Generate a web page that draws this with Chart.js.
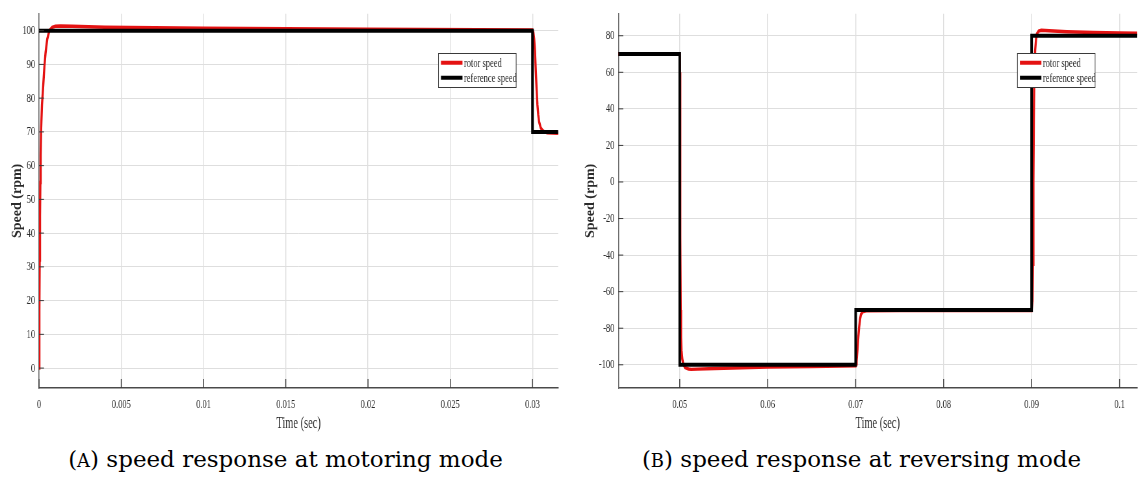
<!DOCTYPE html>
<html>
<head>
<meta charset="utf-8">
<script src="https://cdn.jsdelivr.net/npm/chart.js@4.4.1/dist/chart.umd.min.js"></script>
<style>
  html, body { margin: 0; padding: 0; background: #fff; }
  body { width: 1138px; height: 478px; position: relative; overflow: hidden; }
  .squash { position: absolute; top: 0; transform-origin: 0 0; transform: scaleX(0.65); }
  .squash canvas { display: block; }
  .caption { position: absolute; top: 447px; font-family: "DejaVu Serif", serif;
             font-size: 23px; line-height: 25px; text-align: center; white-space: nowrap; color: #000; }
  .sc { font-size: 0.78em; }
</style>
</head>
<body>
<div class="squash" style="left:0"><canvas id="chartA"></canvas></div>
<div class="squash" style="left:570px"><canvas id="chartB"></canvas></div>
<div class="caption" style="left:0;width:571px">(<span class="sc">A</span>) speed response at motoring mode</div>
<div class="caption" style="left:585px;width:553px">(<span class="sc">B</span>) speed response at reversing mode</div>

<script>
'use strict';

// (a) motoring mode
const timeA = [0, 0.00002, 0.00004, 0.00006, 0.00008, 0.0001, 0.00013, 0.00018, 0.00026, 0.00033, 0.0004,
  0.0005, 0.00063, 0.0008, 0.001, 0.0013, 0.002, 0.004, 0.01, 0.02, 0.03,
  0.03005, 0.0301, 0.03015, 0.0302, 0.03025, 0.0303, 0.03035, 0.0304, 0.0305, 0.0306, 0.0307, 0.0309, 0.0316];
const rotorA = [0, 17, 32, 45, 55, 63, 71, 78, 84, 89.5, 93.5,
  97.5, 100, 101, 101.3, 101.4, 101.3, 101, 100.7, 100.4, 100.2,
  99.5, 97.5, 94, 88, 82.5, 78, 75, 73, 71.2, 70.5, 70.1, 69.7, 69.6];
const refTimeA = [0, 0.03, 0.03, 0.0316];
const refA = [100, 100, 70, 70];
const xTicksA = [0, 0.005, 0.01, 0.015, 0.02, 0.025, 0.03];
const xLabelsA = ['0', '0.005', '0.01', '0.015', '0.02', '0.025', '0.03'];
const yTicksA = [0, 10, 20, 30, 40, 50, 60, 70, 80, 90, 100];

// (b) reversing mode
const timeB = [0.043, 0.05, 0.05003, 0.05005, 0.05008, 0.05011, 0.05015, 0.0502, 0.0503, 0.0504, 0.0506,
  0.051, 0.0513, 0.052, 0.054, 0.057, 0.06, 0.065, 0.07,
  0.07005, 0.0701, 0.0702, 0.0703, 0.0704, 0.0705, 0.0706, 0.0708, 0.0712, 0.075, 0.09,
  0.0901, 0.09015, 0.0902, 0.09025, 0.0903, 0.0904, 0.0905, 0.0906, 0.0908, 0.0911,
  0.092, 0.094, 0.097, 0.1, 0.102];
const rotorB = [70, 70, 60, 30, -30, -70, -85, -92, -97, -99.5, -101.5,
  -102.3, -102.5, -102.4, -102, -101.6, -101.3, -101, -100.6,
  -99.5, -98, -92, -85, -79, -75, -72.5, -71, -70.5, -70.3, -70.3,
  -65, -45, 0, 35, 55, 72, 78, 81, 82.5, 83,
  82.7, 82.2, 81.8, 81.5, 81.4];
const refTimeB = [0.043, 0.05, 0.05, 0.07, 0.07, 0.09, 0.09, 0.102];
const refB = [70, 70, -100, -100, -70, -70, 80, 80];
const xTicksB = [0.05, 0.06, 0.07, 0.08, 0.09, 0.1];
const xLabelsB = ['0.05', '0.06', '0.07', '0.08', '0.09', '0.1'];
const yTicksB = [-100, -80, -60, -40, -20, 0, 20, 40, 60, 80];

const S = 0.65;            // horizontal squash applied to the plot canvases
const H = 436;
const RED = 'rgb(228,18,18)';
const TXT = '#2b2b2b';
const serif = '"Liberation Serif", "Times New Roman", Tinos, "DejaVu Serif", serif';

const points = (xs, ys) => xs.map((x, i) => ({ x: x, y: ys[i] }));

// inward tick marks, rotated axis title and boxed legend
const matlabAxes = {
  id: 'matlabAxes',
  afterDraw(chart, args, opts) {
    const ctx = chart.ctx;
    const area = chart.chartArea;
    const xs = chart.scales.x, ys = chart.scales.y;
    ctx.save();
    ctx.strokeStyle = '#3a3a3a';
    ctx.lineWidth = 1.4;
    xs.ticks.forEach(t => {
      const px = xs.getPixelForValue(t.value);
      ctx.beginPath(); ctx.moveTo(px, area.bottom); ctx.lineTo(px, area.bottom - 9); ctx.stroke();
    });
    ctx.lineWidth = 1;
    ys.ticks.forEach(t => {
      const py = ys.getPixelForValue(t.value);
      ctx.beginPath(); ctx.moveTo(area.left, py); ctx.lineTo(area.left + 5 / S, py); ctx.stroke();
    });
    ctx.restore();

    // y title, kept unsquashed
    ctx.save();
    ctx.translate(opts.titleX / S, (area.top + area.bottom) / 2);
    ctx.scale(1 / S, 1);
    ctx.rotate(-Math.PI / 2);
    ctx.font = 'bold 14px ' + serif;
    ctx.fillStyle = TXT;
    ctx.textAlign = 'center';
    ctx.textBaseline = 'middle';
    ctx.fillText('Speed (rpm)', 0, 0);
    ctx.restore();

    // legend box
    const bw = 77.7 / S, bh = 34;
    const bx = area.right - 42 / S - bw, by = area.top + 39.7;
    ctx.save();
    ctx.fillStyle = '#fff';
    ctx.fillRect(bx, by, bw, bh);
    ctx.strokeStyle = '#3a3a3a';
    ctx.lineWidth = 1;
    ctx.strokeRect(bx, by, bw, bh);
    const rows = [['rotor speed', RED, 9.3], ['reference speed', '#000', 24.3]];
    ctx.font = '13px ' + serif;
    ctx.textBaseline = 'middle';
    ctx.textAlign = 'left';
    rows.forEach(([label, color, dy]) => {
      ctx.strokeStyle = color;
      ctx.lineWidth = 4;
      ctx.beginPath(); ctx.moveTo(bx + 2.5 / S, by + dy); ctx.lineTo(bx + 24 / S, by + dy); ctx.stroke();
      ctx.fillStyle = TXT;
      ctx.fillText(label, bx + 25.5 / S, by + dy + 0.5);
    });
    ctx.restore();
  }
};

function speedChart(id, cfg) {
  const canvas = document.getElementById(id);
  canvas.width = Math.round(cfg.width / S);
  canvas.height = H;
  canvas.style.width = canvas.width + 'px';
  canvas.style.height = H + 'px';
  const tickFont = { family: serif, size: 13 };
  return new Chart(canvas.getContext('2d'), {
    type: 'scatter',
    data: {
      datasets: [
        { label: 'rotor speed', data: points(cfg.time, cfg.rotor), showLine: true, borderColor: RED,
          backgroundColor: RED, borderWidth: 3.4, pointRadius: 0, tension: 0, order: 1 },
        { label: 'reference speed', data: points(cfg.refTime, cfg.ref), showLine: true, borderColor: '#000',
          backgroundColor: '#000', borderWidth: 4, pointRadius: 0, tension: 0, order: 0 }
      ]
    },
    options: {
      responsive: false,
      animation: false,
      devicePixelRatio: 1,
      layout: { padding: { left: 0, right: cfg.padRight / S, top: 8, bottom: 0 } },
      plugins: { legend: { display: false }, tooltip: { enabled: false }, matlabAxes: { titleX: cfg.titleX } },
      scales: {
        x: {
          type: 'linear', min: cfg.xMin, max: cfg.xMax,
          afterFit: s => { s.height = 48; },
          afterBuildTicks: s => { s.ticks = cfg.xTicks.map(v => ({ value: v })); },
          ticks: { callback: (v, i) => cfg.xLabels[i], font: tickFont, color: TXT, padding: 9,
                   maxRotation: 0, autoSkip: false },
          grid: { color: '#dedede', lineWidth: 1.4, drawTicks: false },
          border: { color: '#4a4a4a', width: 1.6 },
          title: { display: true, text: 'Time (sec)', color: TXT, font: { family: serif, size: 16 },
                   padding: { top: 0, bottom: 2.4 } }
        },
        y: {
          type: 'linear', min: cfg.yMin, max: cfg.yMax,
          afterFit: s => { s.width = cfg.axisLeft / S; },
          afterBuildTicks: s => { s.ticks = cfg.yTicks.map(v => ({ value: v })); },
          ticks: { callback: v => String(v), font: tickFont, color: TXT, padding: 6, autoSkip: false },
          grid: { color: '#dedede', lineWidth: 1, drawTicks: false },
          border: { color: '#6a6a6a', width: 1.6 }
        }
      }
    },
    plugins: [matlabAxes]
  });
}

speedChart('chartA', {
  width: 566, axisLeft: 39, padRight: 8, titleX: 17,
  time: timeA, rotor: rotorA, refTime: refTimeA, ref: refA,
  xMin: 0, xMax: 0.03156, yMin: -5.9, yMax: 105,
  xTicks: xTicksA, xLabels: xLabelsA, yTicks: yTicksA
});

speedChart('chartB', {
  width: 568, axisLeft: 48.3, padRight: 1, titleX: 20.7,
  time: timeB, rotor: rotorB, refTime: refTimeB, ref: refB,
  xMin: 0.04302, xMax: 0.10199, yMin: -112.7, yMax: 92,
  xTicks: xTicksB, xLabels: xLabelsB, yTicks: yTicksB
});
</script>
</body>
</html>
